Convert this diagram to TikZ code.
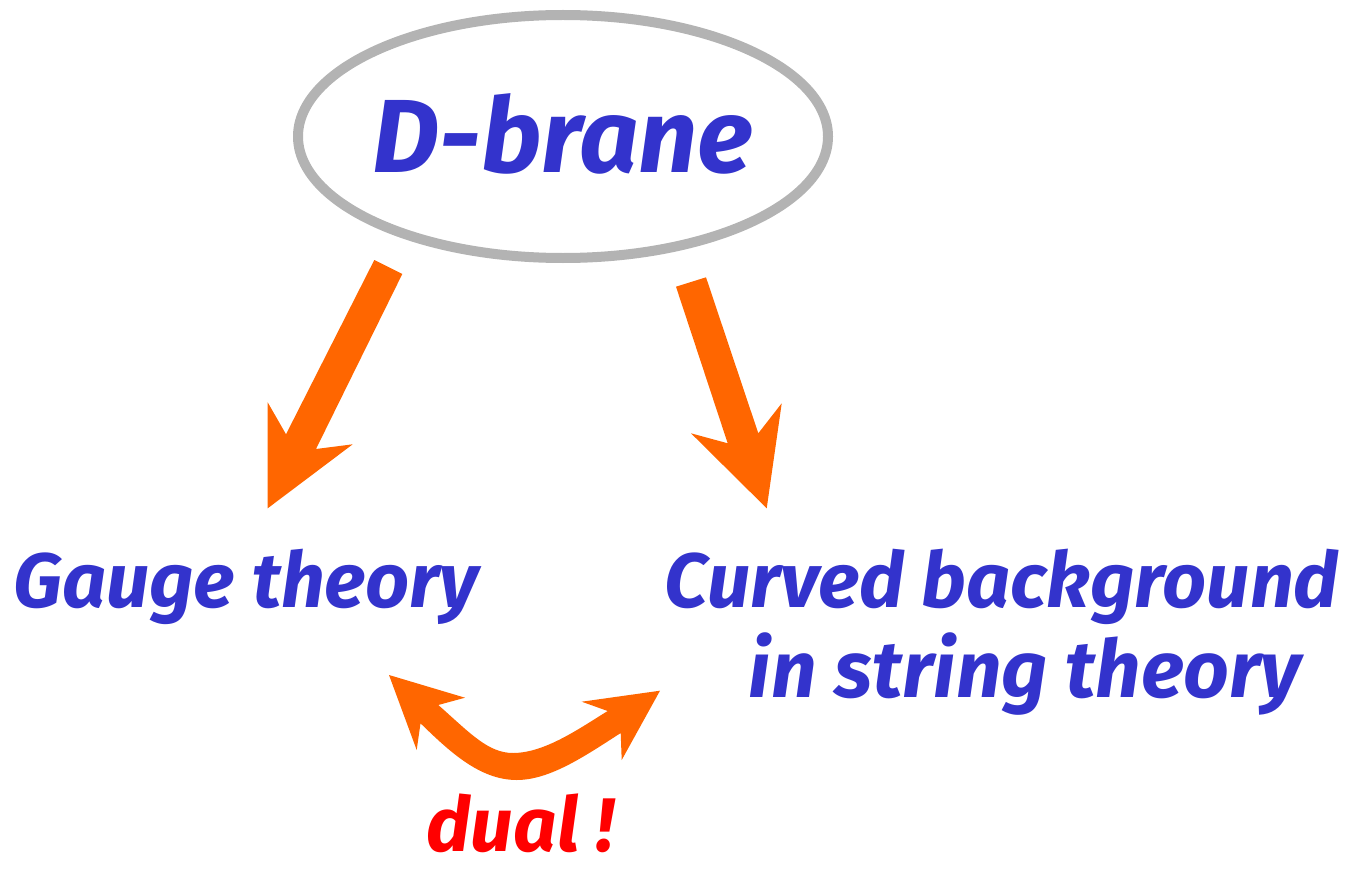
\documentclass[tikz,border=0pt]{standalone}
\usepackage{fontspec}
\setmainfont{Fira Sans}
\definecolor{tblue}{RGB}{51,51,204}
\definecolor{torange}{RGB}{255,102,0}
\definecolor{tred}{RGB}{255,0,0}
\definecolor{tgray}{RGB}{179,179,179}
\begin{document}
\begin{tikzpicture}[x=0.5pt,y=-0.5pt,
  lbl/.style={text=tblue, inner sep=1pt, anchor=base},
  big/.style={font=\fontsize{52}{58}\selectfont\bfseries\itshape},
  mid/.style={font=\fontsize{38.5}{44}\selectfont\bfseries\itshape},
  arrowshape/.style={fill=torange, draw=none}]
\useasboundingbox (0,0) rectangle (1349,872);
\draw[tgray, line width=5pt] (563,136.5) ellipse [x radius=265, y radius=121.5];
\node[lbl, big] (dbrane) at (563,172) {D-brane};
\node[lbl, mid] (gauge) at (246,607) {Gauge theory};
\node[lbl, mid] (curvedA) at (1002,607) {Curved background};
\node[lbl, font=\fontsize{40}{44}\selectfont\bfseries\itshape] (curvedB) at (1025,697) {in string theory};
\node[lbl, text=tred, font=\fontsize{38}{44}\selectfont\bfseries\itshape] (dual) at (520,851) {dual !};
% left arrow
\fill[arrowshape] (374.3,260) -- (402.3,274) -- (316,449) -- (352.7,444.3) -- (267.7,508.3) -- (267.7,402.3) -- (286,434.3) -- cycle;
% right arrow
\fill[arrowshape] (676,286.7) -- (706,277.3) -- (758.3,433.3) -- (781.7,403.3) -- (766.7,508.3) -- (691,433.3) -- (727.7,443.3) -- cycle;
% curved double arrow
\fill[arrowshape] (389,675) -- (465,697.7) -- (438.3,705)
  .. controls (470,733) and (488,753) .. (513,753)
  .. controls (545,753) and (580,728) .. (607.7,711)
  -- (581.7,701.7) -- (660,690.7) -- (621.7,760) -- (620.7,733)
  .. controls (585,756) and (550,780) .. (516.7,780)
  .. controls (480,780) and (450,752) .. (420.5,723.3)
  -- (416.7,750) -- cycle;
\end{tikzpicture}
\end{document}
